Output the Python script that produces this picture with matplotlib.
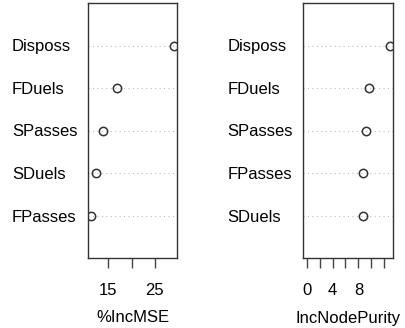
import matplotlib.pyplot as plt

plt.rcParams['font.family'] = ['Liberation Sans', 'DejaVu Sans']

# Importancia de variables (ordenadas de abajo hacia arriba)
mse_labels = ['FPasses', 'SDuels', 'SPasses', 'FDuels', 'Disposs']
mse_values = [11.29, 12.22, 13.78, 16.78, 29.13]
mse_ticks = [15, 20, 25]
mse_ticklabels = ['15', '', '25']

purity_labels = ['SDuels', 'FPasses', 'SPasses', 'FDuels', 'Disposs']
purity_values = [8.66, 8.68, 9.12, 9.63, 12.83]
purity_ticks = [0, 2, 4, 6, 8, 10, 12]
purity_ticklabels = ['0', '', '4', '', '8', '', '']

fig = plt.figure(figsize=(4.06, 3.28), dpi=100)
ax1 = fig.add_axes([88 / 406, 1 - 258 / 328, 89 / 406, 255 / 328])
ax2 = fig.add_axes([303.3 / 406, 1 - 258 / 328, 89.7 / 406, 255 / 328])


def dotchart(ax, labels, values, xmin, ticks, ticklabels, xlabel):
    y = list(range(1, len(values) + 1))
    lo = min(values) if xmin is None else xmin
    hi = max(values)
    pad = 0.04 * (hi - lo)
    for yi in y:
        ax.axhline(yi, color='#bdbdbd', lw=0.8, ls=(0, (1, 3)), zorder=1)
    ax.plot(values, y, 'o', mfc='none', mec='#333333', mew=1.1, ms=6, zorder=3)
    ax.set_xlim(lo - pad, hi + pad)
    ax.set_ylim(0, len(values) + 1)
    ax.set_yticks(y)
    ax.set_yticklabels(labels, ha='left', fontsize=12)
    ax.tick_params(axis='y', length=0, pad=54.7)
    ax.set_xticks(ticks)
    ax.set_xticklabels(ticklabels, fontsize=12)
    ax.tick_params(axis='x', length=7, width=1, color='#444444', pad=11)
    ax.set_xlabel(xlabel, fontsize=12, labelpad=9)
    for s in ax.spines.values():
        s.set_color('#333333')
        s.set_linewidth(1)


dotchart(ax1, mse_labels, mse_values, None, mse_ticks, mse_ticklabels, '%IncMSE')
dotchart(ax2, purity_labels, purity_values, 0, purity_ticks, purity_ticklabels, 'IncNodePurity')

plt.savefig('out.png', dpi=100)
